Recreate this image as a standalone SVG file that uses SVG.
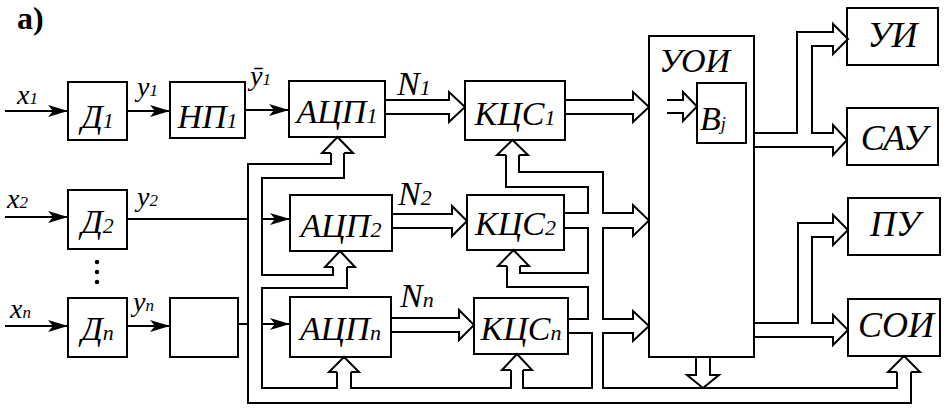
<svg xmlns="http://www.w3.org/2000/svg" width="946" height="414" viewBox="0 0 946 414">
<defs>
<style>
.b{fill:none;stroke:#000;stroke-width:2}
.w{fill:none;stroke:#000;stroke-width:2;stroke-linejoin:miter}
.a{fill:none;stroke:#000;stroke-width:2;marker-end:url(#ar)}
text{font-family:'Liberation Serif','Times New Roman','DejaVu Serif',serif}
.t{font-style:italic;font-size:34px;fill:#000}
.r{font-size:36px}
.c{text-anchor:middle}
.s{font-size:22px}
.g{font-style:italic;font-size:28px;fill:#000}
.gs{font-size:17px}
</style>
<marker id="ar" markerWidth="20" markerHeight="12" refX="20" refY="6" orient="auto" markerUnits="userSpaceOnUse"><path d="M0,0 L20,6 L0,12 L5,6 z" fill="#000"/></marker>
</defs>
<rect width="946" height="414" fill="#fff"/>
<text x="17" y="29" font-weight="bold" font-size="32">а)</text>

<g id="D1"><rect class="b" x="68" y="82" width="59" height="58"/><text class="t c" x="97.5" y="128">Д<tspan class="s">1</tspan></text></g>
<g id="NP1"><rect class="b" x="170" y="82" width="75" height="56"/><text class="t c" x="207.5" y="128">НП<tspan class="s">1</tspan></text></g>
<g id="ADC1"><rect class="b" x="289" y="81" width="96" height="56"/><text class="t c" x="337" y="123">АЦП<tspan class="s">1</tspan></text></g>
<g id="KCS1"><rect class="b" x="465" y="81" width="100" height="59"/><text class="t c" x="515" y="125">КЦС<tspan class="s">1</tspan></text></g>
<g id="D2"><rect class="b" x="68" y="190" width="59" height="59"/><text class="t c" x="97.5" y="233">Д<tspan class="s">2</tspan></text></g>
<g id="ADC2"><rect class="b" x="290" y="195" width="102" height="56"/><text class="t c" x="341" y="237">АЦП<tspan class="s">2</tspan></text></g>
<g id="KCS2"><rect class="b" x="467" y="195" width="97" height="55"/><text class="t c" x="515.5" y="235">КЦС<tspan class="s">2</tspan></text></g>
<g id="Dn"><rect class="b" x="68" y="298" width="59" height="59"/><text class="t c" x="97.5" y="340">Д<tspan class="s">n</tspan></text></g>
<g id="NPn"><rect class="b" x="170" y="298" width="68" height="59"/></g>
<g id="ADCn"><rect class="b" x="290" y="297" width="101" height="60"/><text class="t c" x="340.5" y="340">АЦП<tspan class="s">n</tspan></text></g>
<g id="KCSn"><rect class="b" x="474" y="298" width="94" height="56"/><text class="t c" x="521" y="340">КЦС<tspan class="s">n</tspan></text></g>
<g id="UOI"><rect class="b" x="649" y="36" width="105" height="321"/><text class="t" x="659" y="72">УОИ</text></g>
<g id="Bj"><rect class="b" x="697" y="83" width="49" height="60"/><text class="t" x="700" y="130" font-size="32">B<tspan font-size="18">j</tspan></text></g>
<g id="UI"><rect class="b" x="847" y="8" width="91" height="57"/><text class="t r c" x="892.5" y="47">УИ</text></g>
<g id="SAU"><rect class="b" x="847" y="108" width="91" height="57"/><text class="t r c" x="894" y="150">САУ</text></g>
<g id="PU"><rect class="b" x="848" y="198" width="92" height="57"/><text class="t r c" x="895" y="236">ПУ</text></g>
<g id="SOI"><rect class="b" x="848" y="299" width="92" height="57"/><text class="t r c" x="896" y="337">СОИ</text></g>

<g id="labels">
<text class="g" x="17" y="104">x<tspan class="gs">1</tspan></text>
<text class="g" x="137" y="96">y<tspan class="gs">1</tspan></text>
<text class="g" x="250" y="85">ȳ<tspan class="gs">1</tspan></text>
<text class="g" x="7" y="208">x<tspan class="gs">2</tspan></text>
<text class="g" x="137" y="206">y<tspan class="gs">2</tspan></text>
<text class="g" x="10" y="318">x<tspan class="gs">n</tspan></text>
<text class="g" x="133" y="311">y<tspan class="gs">n</tspan></text>
<text class="t" x="397" y="95" font-size="32">N<tspan class="s">1</tspan></text>
<text class="t" x="398" y="205" font-size="32">N<tspan class="s">2</tspan></text>
<text class="t" x="400" y="307" font-size="32">N<tspan class="s">n</tspan></text>
<circle cx="97" cy="262" r="2.2"/><circle cx="97" cy="272" r="2.2"/><circle cx="97" cy="282" r="2.2"/>
</g>

<g id="connectors">
<path class="a" d="M5,111 H68"/>
<path class="a" d="M127,111 H170"/>
<path class="a" d="M245,110 H289"/>
<path class="a" d="M5,217 H68"/>
<path class="w" d="M127,219 H247"/>
<path class="a" d="M262,219 H290"/>
<path class="a" d="M5,326 H68"/>
<path class="a" d="M127,326 H170"/>
<path class="w" d="M238,324 H247"/>
<path class="a" d="M262,324 H290"/>

<path class="w" d="M385,100 H449 V92 L465,107 L449,122 V114 H385"/>
<path class="w" d="M565,100 H633 V92 L649,107 L633,122 V114 H565"/>
<path class="w" d="M392,214 H452 V206 L467,221 L452,236 V228 H392"/>
<path class="w" d="M391,318 H459 V310 L474,325 L459,340 V332 H391"/>
<path class="w" d="M667,100 H683 V92 L697,106.5 L683,121 V113 H667"/>

<path class="w" d="M331,153 H322 L337.5,137 L353,153 H344"/>
<path class="w" d="M333,267 H325 L340,251 L355,267 H347"/>
<path class="w" d="M337,372 H329 L344,357 L359,372 H351"/>
<path class="w" d="M506,155 H497 L512.5,140 L528,155 H519"/>
<path class="w" d="M507,266 H498 L513.5,250 L529,266 H520"/>
<path class="w" d="M511,370 H502 L517,354 L532,370 H523"/>
<path class="w" d="M897,372 H888 L904,356 L920,372 H911"/>
<path class="w" d="M696,357 V375 H687 L703,388 L719,375 H710 V357"/>

<path class="w" d="M331,153 V164 H248 V403 H911 V372"/>
<path class="w" d="M344,153 V178 H262 V275 H333 V267"/>
<path class="w" d="M347,267 V288 H262 V388 H337 V372"/>
<path class="w" d="M351,372 V388 H511 V370"/>
<path class="w" d="M523,370 V388 H592 V333 H568"/>
<path class="w" d="M506,155 V187 H588 V213 H564"/>
<path class="w" d="M519,155 V172 H603 V213 H633 V205 L649,220.5 L633,236 V228 H603 V319 H633 V311 L649,326 L633,341 V333 H603 V388 H897 V372"/>
<path class="w" d="M564,228 H588 V273 H520 V266"/>
<path class="w" d="M507,266 V287 H588 V319 H568"/>

<path class="w" d="M754,133 H797 V32 H833 V24 L848,39 L833,54 V46 H812 V133 H833 V125 L847,140 L833,155 V147 H754"/>
<path class="w" d="M754,323 H798 V223 H833 V215 L848,230 L833,245 V237 H812 V323 H833 V315 L848,330 L833,345 V337 H754"/>
</g>
</svg>
